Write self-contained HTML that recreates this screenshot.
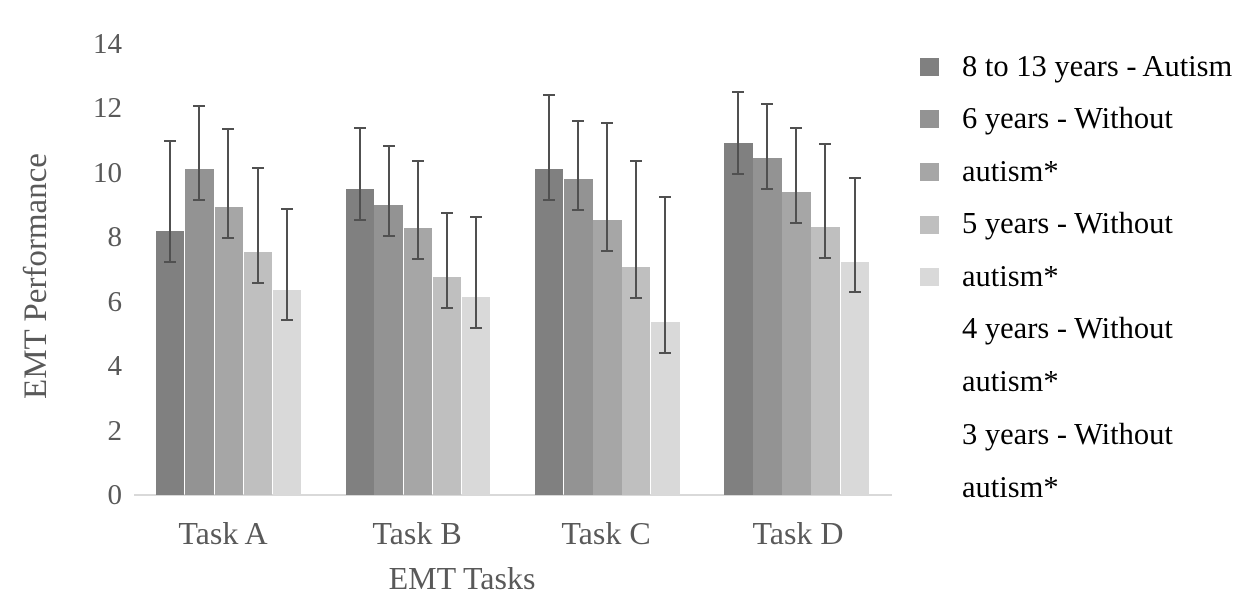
<!DOCTYPE html>
<html><head><meta charset="utf-8"><style>
html,body{margin:0;padding:0;background:#fff;}
svg{display:block;font-family:"Liberation Serif",serif;}
</style></head><body>
<svg width="1252" height="604" xmlns="http://www.w3.org/2000/svg">
<rect width="1252" height="604" fill="#fff"/>
<g font-size="29" fill="#595959" text-anchor="end">
<text x="122" y="53">14</text>
<text x="122" y="117">12</text>
<text x="122" y="182">10</text>
<text x="122" y="246">8</text>
<text x="122" y="311">6</text>
<text x="122" y="375">4</text>
<text x="122" y="440">2</text>
<text x="122" y="504">0</text>
</g>
<text transform="translate(46,276) rotate(-90)" font-size="33" fill="#595959" text-anchor="middle">EMT Performance</text>
<line x1="134" y1="495" x2="892" y2="495" stroke="#d9d9d9" stroke-width="2"/>
<g>
<rect x="156" y="231" width="28" height="264" fill="#808080"/>
<rect x="185" y="169" width="29" height="326" fill="#939393"/>
<rect x="215" y="207" width="28" height="288" fill="#a6a6a6"/>
<rect x="244" y="252" width="28" height="243" fill="#bfbfbf"/>
<rect x="273" y="290" width="28" height="205" fill="#d9d9d9"/>
<rect x="346" y="189" width="28" height="306" fill="#808080"/>
<rect x="374" y="205" width="29" height="290" fill="#939393"/>
<rect x="404" y="228" width="28" height="267" fill="#a6a6a6"/>
<rect x="433" y="277" width="28" height="218" fill="#bfbfbf"/>
<rect x="462" y="297" width="28" height="198" fill="#d9d9d9"/>
<rect x="535" y="169" width="28" height="326" fill="#808080"/>
<rect x="564" y="179" width="29" height="316" fill="#939393"/>
<rect x="593" y="220" width="29" height="275" fill="#a6a6a6"/>
<rect x="622" y="267" width="28" height="228" fill="#bfbfbf"/>
<rect x="651" y="322" width="29" height="173" fill="#d9d9d9"/>
<rect x="724" y="143" width="29" height="352" fill="#808080"/>
<rect x="753" y="158" width="29" height="337" fill="#939393"/>
<rect x="782" y="192" width="29" height="303" fill="#a6a6a6"/>
<rect x="811" y="227" width="29" height="268" fill="#bfbfbf"/>
<rect x="841" y="262" width="28" height="233" fill="#d9d9d9"/>
</g>
<g stroke="#505050" stroke-width="2" fill="none">
<path d="M170 141V262M164 141H176M164 262H176"/>
<path d="M199 106V200M193 106H205M193 200H205"/>
<path d="M228 129V238M222 129H234M222 238H234"/>
<path d="M258 168V283M252 168H264M252 283H264"/>
<path d="M287 209V320M281 209H293M281 320H293"/>
<path d="M360 128V220M354 128H366M354 220H366"/>
<path d="M389 146V236M383 146H395M383 236H395"/>
<path d="M418 161V259M412 161H424M412 259H424"/>
<path d="M447 213V308M441 213H453M441 308H453"/>
<path d="M476 217V328M470 217H482M470 328H482"/>
<path d="M549 95V200M543 95H555M543 200H555"/>
<path d="M578 121V210M572 121H584M572 210H584"/>
<path d="M607 123V251M601 123H613M601 251H613"/>
<path d="M636 161V298M630 161H642M630 298H642"/>
<path d="M665 197V353M659 197H671M659 353H671"/>
<path d="M738 92V174M732 92H744M732 174H744"/>
<path d="M767 104V189M761 104H773M761 189H773"/>
<path d="M796 128V223M790 128H802M790 223H802"/>
<path d="M825 144V258M819 144H831M819 258H831"/>
<path d="M855 178V292M849 178H861M849 292H861"/>
</g>
<g font-size="32" fill="#595959" text-anchor="middle">
<text x="223" y="544">Task A</text>
<text x="417" y="544">Task B</text>
<text x="606" y="544">Task C</text>
<text x="798" y="544">Task D</text>
<text x="462" y="589">EMT Tasks</text>
</g>
<g>
<rect x="920" y="58" width="19" height="18" fill="#808080"/>
<rect x="920" y="110" width="19" height="18" fill="#939393"/>
<rect x="920" y="163" width="19" height="18" fill="#a6a6a6"/>
<rect x="920" y="216" width="19" height="18" fill="#bfbfbf"/>
<rect x="920" y="268" width="19" height="18" fill="#d9d9d9"/>
</g>
<g font-size="30.5" fill="#000">
<text x="962" y="76">8 to 13 years - Autism</text>
<text x="962" y="128">6 years - Without</text>
<text x="962" y="181">autism*</text>
<text x="962" y="233">5 years - Without</text>
<text x="962" y="286">autism*</text>
<text x="962" y="338">4 years - Without</text>
<text x="962" y="391">autism*</text>
<text x="962" y="444">3 years - Without</text>
<text x="962" y="497">autism*</text>
</g>
</svg>
</body></html>
